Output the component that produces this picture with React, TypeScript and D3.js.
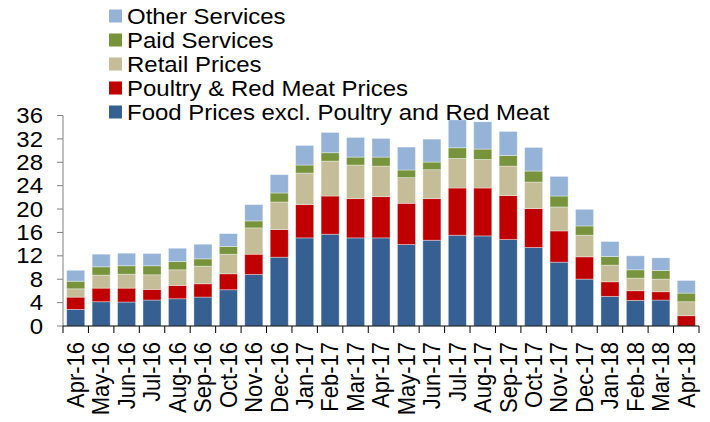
import React from "react";
import * as d3 from "d3";

const months = ["Apr-16","May-16","Jun-16","Jul-16","Aug-16","Sep-16","Oct-16","Nov-16","Dec-16","Jan-17","Feb-17","Mar-17","Apr-17","May-17","Jun-17","Jul-17","Aug-17","Sep-17","Oct-17","Nov-17","Dec-17","Jan-18","Feb-18","Mar-18","Apr-18"];
const foodExcl = [2.84,4.15,4.1,4.44,4.66,4.95,6.2,8.81,11.77,15.07,15.7,15.07,15.07,13.93,14.67,15.53,15.41,14.79,13.42,10.92,8.02,5.07,4.38,4.44,0];
const poultryMeat = [2.1,2.33,2.38,1.82,2.28,2.27,2.73,3.47,4.72,5.69,6.53,6.71,7.05,7.06,7.11,8.07,8.19,7.51,6.66,5.34,3.81,2.49,1.65,1.42,1.76];
const retail = [1.42,2.22,2.39,2.5,2.67,3.02,3.35,4.5,4.72,5.4,5.97,5.75,5.23,4.38,4.95,5.06,4.89,5.05,4.54,4.1,3.7,2.85,2.16,2.16,2.39];
const paid = [1.3,1.42,1.43,1.54,1.42,1.24,1.32,1.19,1.54,1.37,1.43,1.36,1.54,1.31,1.31,1.82,1.77,1.83,1.88,1.87,1.58,1.48,1.42,1.48,1.48];
const other = [1.87,2.16,2.15,2.1,2.27,2.51,2.2,2.79,3.13,3.35,3.47,3.36,3.19,3.92,3.92,4.78,4.66,4.09,4.04,3.36,2.85,2.56,2.39,2.16,2.16];
const yTicks = [0,4,8,12,16,20,24,28,32,36];

const seriesNames = ["Food Prices excl. Poultry and Red Meat","Poultry & Red Meat Prices","Retail Prices","Paid Services","Other Services"];
const seriesColors = ["#366092","#C00000","#C4BD97","#77933C","#95B3D7"];
const seriesData = [foodExcl, poultryMeat, retail, paid, other];

export default function App() {
  const W = 710, H = 422;
  const x0 = 63, x1 = 699, yBase = 326, yTop = 115.5;
  const font = "'Liberation Sans', Arial, sans-serif";
  const x = d3.scaleBand<string>().domain(months).range([x0, x1]).paddingInner(0.29).paddingOuter(0.145);
  const xb = d3.scaleBand<string>().domain(months).range([x0, x1]);
  const y = d3.scaleLinear().domain([0, 36]).range([yBase, yTop]);

  const table = months.map((m, i) => {
    const o: any = { month: m };
    seriesNames.forEach((s, k) => (o[s] = seriesData[k][i]));
    return o;
  });
  const stacked = d3.stack<any>().keys(seriesNames)(table);

  const legendOrder = [4, 3, 2, 1, 0];

  return (
    <svg width={W} height={H} style={{ position: "absolute", left: 0, top: 0 }} fontFamily={font}>
      {stacked.map((layer, k) => (
        <g key={k} fill={seriesColors[k]}>
          {layer.map((d, i) => {
            const h = y(d[0]) - y(d[1]);
            if (h <= 0) return null;
            return (
              <rect key={i} x={x(months[i])} y={y(d[1])} width={x.bandwidth()} height={h}
                stroke="rgba(255,255,255,0.45)" strokeWidth={0.8} />
            );
          })}
        </g>
      ))}
      {/* y axis */}
      <line x1={x0} x2={x0} y1={yTop} y2={yBase} stroke="#808080" strokeWidth={1} />
      {yTicks.map((t) => (
        <g key={t}>
          <line x1={x0 - 6} x2={x0} y1={y(t)} y2={y(t)} stroke="#808080" strokeWidth={1} />
          <text x={43} y={y(t)} dominantBaseline="central" textAnchor="end" fontSize={22} fill="#000"
            transform={`translate(43,0) scale(1.09,1) translate(-43,0)`}>{t}</text>
        </g>
      ))}
      {/* x axis */}
      <line x1={x0} x2={x1} y1={yBase} y2={yBase} stroke="#000" strokeWidth={1.2} />
      {months.map((m, i) => (
        <line key={"t" + i} x1={xb(m)!} x2={xb(m)!} y1={yBase} y2={yBase + 7} stroke="#000" strokeWidth={1} />
      ))}
      <line x1={x1} x2={x1} y1={yBase} y2={yBase + 7} stroke="#000" strokeWidth={1} />
      {months.map((m) => {
        const cx = xb(m)! + xb.bandwidth() / 2;
        return (
          <text key={m} transform={`translate(${cx},342) rotate(-90) scale(1,1.08)`} textAnchor="end" dominantBaseline="central"
            fontSize={22} fill="#000">{m}</text>
        );
      })}
      {/* legend */}
      {legendOrder.map((k, r) => {
        const cy = 16 + r * 24;
        return (
          <g key={k}>
            <rect x={109} y={cy - 6.5} width={13} height={13} fill={seriesColors[k]} />
            <text x={127} y={cy} dominantBaseline="central" fontSize={22} fill="#000"
              transform={`translate(127,0) scale(1.09,1) translate(-127,0)`}>{seriesNames[k]}</text>
          </g>
        );
      })}
    </svg>
  );
}
